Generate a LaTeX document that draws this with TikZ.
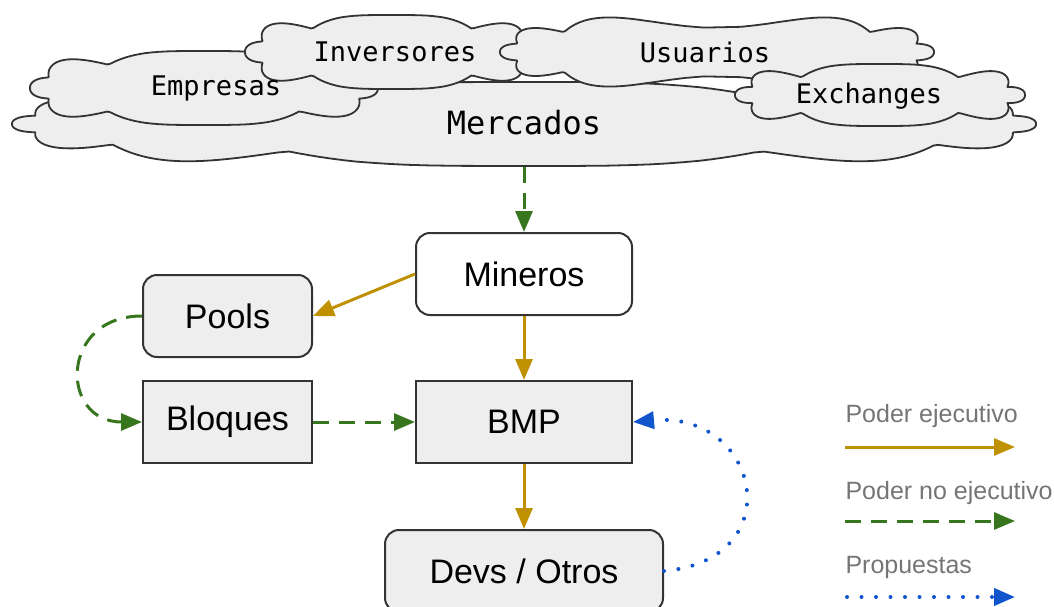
\documentclass[tikz,border=0pt]{standalone}
\usepackage{fontspec}
\setmainfont{Liberation Sans}
\newfontfamily\nubefont{DejaVu Sans Mono}
\usetikzlibrary{arrows.meta}
\definecolor{oro}{HTML}{BF9000}
\definecolor{verde}{HTML}{38761D}
\definecolor{azul}{HTML}{1155CC}
\definecolor{relleno}{HTML}{EEEEEE}
\definecolor{borde}{HTML}{333333}
\definecolor{gristexto}{HTML}{757575}

\begin{document}
\begin{tikzpicture}[x=1pt,y=-1pt]
    % Define styles
    \tikzset{
        caja/.style={draw=borde, line width=2pt, fill=relleno, minimum width=169pt, minimum height=82pt, font=\fontsize{34}{40}\selectfont},
        redonda/.style={caja, rounded corners=14pt},
        nube/.style={draw=borde, line width=1.8pt, line join=round, fill=relleno},
        nubetexto/.style={font=\nubefont\fontsize{27}{32}\selectfont},
        punta/.style={-{Triangle[length=21pt,width=17pt]}},
        ejecutivo/.style={punta, line width=3pt, oro},
        noejecutivo/.style={punta, line width=3pt, verde, dash pattern=on 16pt off 10pt},
        propuesta/.style={punta, line width=4pt, azul, line cap=round, dash pattern=on 0pt off 14.5pt},
        leyenda/.style={anchor=west, text=gristexto, font=\fontsize{25}{30}\selectfont}
    }
    \useasboundingbox (0,0) rectangle (1054,607);

    % Draw clouds
    \draw[nube] plot[domain=0:360, samples=300, variable=\t]
        ({524+(498+14*abs(cos(6*\t)))*sign(cos(\t))*pow(abs(cos(\t))+0.0001,0.55)},
         {124+(28+14*abs(cos(6*\t)))*sign(sin(\t))*pow(abs(sin(\t))+0.0001,0.9)}) -- cycle;
    \foreach \cx/\cy/\a/\b/\k in {
        204/88/162/25/4,
        392/52/135/25/4,
        717/52/205/24/5,
        880/95/133/19/4} {
        \draw[nube] plot[domain=0:360, samples=240, variable=\t]
            ({\cx+(\a+12*abs(cos(\k*\t)))*sign(cos(\t))*pow(abs(cos(\t))+0.0001,0.55)},
             {\cy+(\b+12*abs(cos(\k*\t)))*sign(sin(\t))*pow(abs(sin(\t))+0.0001,0.9)}) -- cycle;
    }

    % Cloud labels
    \node[nubetexto, font=\nubefont\fontsize{32}{36}\selectfont] (mercados) at (524,123) {Mercados};
    \coordinate (mercadosbase) at (524,167);
    \node[nubetexto] (empresas) at (216,88) {Empresas};
    \node[nubetexto] (inversores) at (395,52) {Inversores};
    \node[nubetexto] (usuarios) at (705,52) {Usuarios};
    \node[nubetexto] (exchanges) at (869,96) {Exchanges};

    % Draw boxes
    \node[redonda, minimum width=216pt, fill=white] (mineros) at (524,274) {Mineros};
    \node[redonda] (pools) at (227.5,316) {Pools};
    \node[caja] (bloques) at (227.5,422) {Bloques};
    \node[caja, minimum width=216pt] (bmp) at (524,422) {BMP};
    \node[redonda, minimum width=278pt] (devs) at (524,571) {Devs / Otros};

    % Draw connectors
    \draw[noejecutivo] (mercadosbase) -- (mineros.north);
    \draw[ejecutivo] (mineros.west) -- (pools.east);
    \draw[ejecutivo] (mineros) -- (bmp);
    \draw[ejecutivo] (bmp) -- (devs);
    \draw[noejecutivo] (pools.west) to[out=180, in=180, looseness=2] (bloques.west);
    \draw[noejecutivo] (bloques) -- (bmp);
    \draw[propuesta] (devs.east) to[out=5, in=5, looseness=2.15] (bmp.east);

    % Add legend
    \node[leyenda] (ley1) at (842,416) {Poder ejecutivo};
    \node[leyenda] (ley2) at (842,493) {Poder no ejecutivo};
    \node[leyenda] (ley3) at (842,567) {Propuestas};
    \coordinate (a1) at (845,447);
    \coordinate (b1) at (1015,447);
    \coordinate (a2) at (845,521);
    \coordinate (b2) at (1015,521);
    \coordinate (a3) at (847,597);
    \coordinate (b3) at (1015,597);
    \draw[ejecutivo] (a1) -- (b1);
    \draw[noejecutivo] (a2) -- (b2);
    \draw[propuesta] (a3) -- (b3);
\end{tikzpicture}
\end{document}
